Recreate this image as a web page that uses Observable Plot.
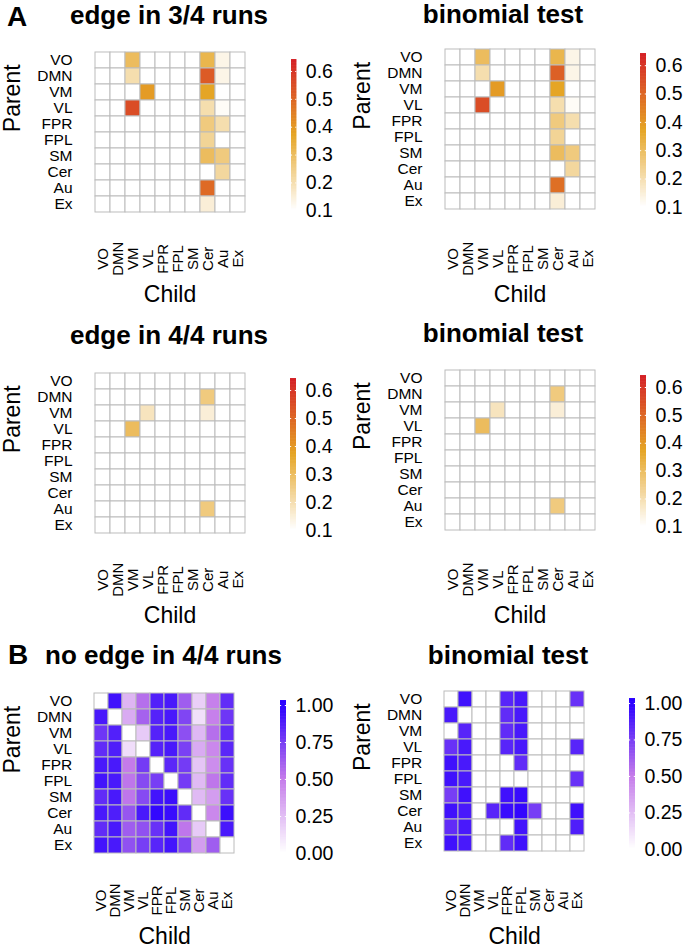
<!DOCTYPE html>
<html><head><meta charset="utf-8">
<script src="https://cdn.jsdelivr.net/npm/d3@7"></script>
<script src="https://cdn.jsdelivr.net/npm/@observablehq/plot@0.6"></script>
<style>
body{margin:0;background:#fff;font-family:"Liberation Sans",Arial,Helvetica,sans-serif;}
#fig{position:relative;width:686px;height:949px;overflow:hidden;background:#fff;}
#fig svg{position:absolute;}
.title{position:absolute;font-weight:bold;font-size:26px;white-space:nowrap;line-height:1.2;transform:translateX(-50%);color:#000;}
.tag{position:absolute;font-weight:bold;font-size:28px;line-height:1.2;color:#000;}
</style></head><body><div id="fig"></div>
<script>
// ---------- data ----------
const regions = ["VO","DMN","VM","VL","FPR","FPL","SM","Cer","Au","Ex"];
const ticksA = [0.1,0.2,0.3,0.4,0.5,0.6];
const ticksB = [0,0.25,0.5,0.75,1];
const panelTitles = ["edge in 3/4 runs","binomial test","edge in 4/4 runs","binomial test","no edge in 4/4 runs","binomial test"];
const panelTags = ["A","B"];

// rows = Parent, columns = Child (order of regions); 0 = no edge
const edge3of4 = [
  [0,0,0.30,0,0,0,0,0.32,0.13,0],
  [0,0,0.20,0,0,0,0,0.52,0.13,0],
  [0,0,0,0.39,0,0,0,0.37,0,0],
  [0,0,0.55,0,0,0,0,0.20,0.11,0],
  [0,0,0,0,0,0,0,0.26,0.20,0],
  [0,0,0,0,0,0,0,0.23,0,0],
  [0,0,0,0,0,0,0,0.30,0.26,0],
  [0,0,0,0,0,0,0,0,0.22,0],
  [0,0,0,0,0,0,0,0.49,0,0],
  [0,0,0,0,0,0,0,0.15,0,0]
];
const binom3of4 = [
  [0,0,0.30,0,0,0,0,0.32,0.13,0],
  [0,0,0.20,0,0,0,0,0.51,0.13,0],
  [0,0,0,0.39,0,0,0,0.37,0,0],
  [0,0,0.55,0,0,0,0,0.20,0.11,0],
  [0,0,0,0,0,0,0,0.26,0.20,0],
  [0,0,0,0,0,0,0,0.23,0,0],
  [0,0,0,0,0,0,0,0.30,0.26,0],
  [0,0,0,0,0,0,0,0,0.22,0],
  [0,0,0,0,0,0,0,0.48,0,0],
  [0,0,0,0,0,0,0,0.15,0,0]
];
const edge4of4 = [
  [0,0,0,0,0,0,0,0,0,0],
  [0,0,0,0,0,0,0,0.26,0,0],
  [0,0,0,0.18,0,0,0,0.15,0,0],
  [0,0,0.30,0,0,0,0,0,0,0],
  [0,0,0,0,0,0,0,0,0,0],
  [0,0,0,0,0,0,0,0,0,0],
  [0,0,0,0,0,0,0,0,0,0],
  [0,0,0,0,0,0,0,0,0,0],
  [0,0,0,0,0,0,0,0.26,0,0],
  [0,0,0,0,0,0,0,0,0,0]
];
const binom4of4 = [
  [0,0,0,0,0,0,0,0,0,0],
  [0,0,0,0,0,0,0,0.26,0,0],
  [0,0,0,0.18,0,0,0,0.15,0,0],
  [0,0,0.30,0,0,0,0,0,0,0],
  [0,0,0,0,0,0,0,0,0,0],
  [0,0,0,0,0,0,0,0,0,0],
  [0,0,0,0,0,0,0,0,0,0],
  [0,0,0,0,0,0,0,0,0,0],
  [0,0,0,0,0,0,0,0.26,0,0],
  [0,0,0,0,0,0,0,0,0,0]
];
const noEdge4of4 = [
  [0,0.93,0.28,0.55,0.87,0.90,0.62,0.18,0.48,0.82],
  [0.90,0,0.32,0.60,0.86,0.90,0.72,0.12,0.48,0.78],
  [0.78,0.87,0,0.20,0.86,0.90,0.68,0.27,0.55,0.82],
  [0.82,0.88,0.13,0,0.86,0.90,0.74,0.32,0.45,0.84],
  [0.90,0.90,0.50,0.76,0,0.84,0.76,0.22,0.43,0.80],
  [0.92,0.90,0.52,0.70,0.75,0,0.76,0.26,0.52,0.82],
  [0.82,0.90,0.52,0.70,0.92,0.94,0,0.26,0.37,0.80],
  [0.90,0.88,0.65,0.90,0.97,0.95,0.82,0,0.45,0.94],
  [0.82,0.90,0.62,0.67,0.80,0.92,0.52,0.20,0,0.90],
  [0.92,0.90,0.67,0.75,0.85,0.92,0.72,0.37,0.62,0]
];
const binomNoEdge = [
  [0,0.93,0,0,0.85,0.90,0,0,0,0.80],
  [0.90,0,0,0,0.82,0.90,0,0,0,0],
  [0,0.85,0,0,0.82,0.90,0,0,0,0],
  [0.80,0.90,0,0,0.85,0.90,0,0,0,0.85],
  [0.93,0.90,0,0,0,0.82,0,0,0,0],
  [0.93,0.90,0,0,0,0,0,0,0,0.80],
  [0.75,0.93,0,0,0.93,0.95,0,0,0,0],
  [0.93,0.90,0,0.85,0.95,0.97,0.75,0,0,0.93],
  [0.82,0.90,0,0,0,0.92,0,0,0,0.88],
  [0.93,0.90,0,0,0.82,0.93,0,0,0,0]
];

// ---------- scales ----------
const colorA = {type:"linear", domain:[0.1,0.37,0.643], range:["#ffffff","#E5A525","#D41F26"], interpolate:"rgb", clamp:true};
const colorB = {type:"linear", domain:[0,0.5,1], range:["#ffffff","#C47BEA","#2A00FF"], interpolate:"rgb", clamp:true};

const FONT = "Liberation Sans, Arial, Helvetica, sans-serif";
const fig = document.getElementById("fig");

function place(node, left, top){
  node.style.left = left + "px";
  node.style.top = top + "px";
  fig.appendChild(node);
}

function heatmap({L, W, gl, gt, gw, gh, values, color}){
  const T = gt - 10;
  const H = 10 + gh + 92;
  const cells = [];
  values.forEach((row,i) => row.forEach((v,j) => cells.push({parent: regions[i], child: regions[j], value: v})));
  const svg = Plot.plot({
    width: W, height: H,
    marginLeft: gl - L, marginTop: gt - T,
    marginRight: W - (gl - L) - gw, marginBottom: H - (gt - T) - gh,
    style: {background:"none", fontFamily: FONT, fontSize:"15px", color:"#000", overflow:"visible"},
    x: {type:"band", domain: regions, padding:0, axis:null},
    y: {type:"band", domain: regions, padding:0, axis:null},
    color,
    marks: [
      Plot.cell(cells, {x:"child", y:"parent", fill:"value", stroke:"#bcbcbc", strokeWidth:1}),
      Plot.text(regions, {y: d => d, frameAnchor:"left", dx:-21, textAnchor:"end", fontSize:15.5, fill:"#000"}),
      Plot.text(regions, {x: d => d, frameAnchor:"bottom", dy:46, rotate:-90, fontSize:15, textAnchor:"middle", lineAnchor:"middle", fill:"#000"}),
      Plot.text(["Child"], {frameAnchor:"bottom", dy:82, fontSize:23, lineAnchor:"middle", fill:"#000"}),
      Plot.text(["Parent"], {frameAnchor:"left", dx:-81, rotate:-90, fontSize:23, lineAnchor:"middle", fill:"#000"})
    ]
  });
  place(svg, L, T);
}

function colorbar({barL, barR, v0, p0, v1, p1, domain, ticks, format, color}){
  const k = (p1 - p0) / (v1 - v0);
  const yOf = v => p0 + (v - v0) * k;
  const top = yOf(domain[1]), bottom = yOf(domain[0]);
  const L = barL - 4, T = top - 20, W = 70, H = bottom - T + 20;
  const step = (domain[1] - domain[0]) / 200;
  const stripes = d3.range(domain[0], domain[1], step);
  const svg = Plot.plot({
    width: W, height: H,
    marginLeft: barL - L, marginRight: W - (barR - L), marginTop: 20, marginBottom: 20,
    style: {background:"none", fontFamily: FONT, fontSize:"19px", color:"#000", overflow:"visible"},
    x: {domain:[0,1], axis:null},
    y: {domain, range:[bottom - T, top - T], axis:null},
    color,
    marks: [
      Plot.rect(stripes, {x1:0, x2:1, y1: d => d, y2: d => Math.min(d + step*1.8, domain[1]), fill: d => d}),
      Plot.ruleY(ticks, {x1:0, x2:0.2, stroke:"#ffffff", strokeWidth:1}),
      Plot.ruleY(ticks, {x1:0.8, x2:1, stroke:"#ffffff", strokeWidth:1}),
      Plot.text(ticks, {y: d => d, x: 1, dx:9, textAnchor:"start", text: d => format(d), fontSize:19.5, fill:"#000"})
    ]
  });
  place(svg, L, T);
}

function title(text, cx, baseline){
  const d = document.createElement("div");
  d.className = "title"; d.textContent = text;
  d.style.left = cx + "px"; d.style.top = (baseline - 0.947*26) + "px";
  fig.appendChild(d);
}
function tag(text, x, baseline){
  const d = document.createElement("div");
  d.className = "tag"; d.textContent = text;
  d.style.left = x + "px"; d.style.top = Math.max(0, baseline - 0.947*28) + "px";
  fig.appendChild(d);
}

// ---------- layout ----------
heatmap({L:0,   W:340, gl:93,    gt:50.7,  gw:153, gh:161.3, values:edge3of4,   color:colorA});
heatmap({L:340, W:346, gl:443,   gt:45.7,  gw:153, gh:166.3, values:binom3of4,  color:colorA});
heatmap({L:0,   W:340, gl:93,    gt:371.7, gw:153, gh:161.3, values:edge4of4,   color:colorA});
heatmap({L:340, W:346, gl:443,   gt:366,   gw:153, gh:167,   values:binom4of4,  color:colorA});
heatmap({L:0,   W:340, gl:92.7,  gt:692,   gw:143, gh:162,   values:noEdge4of4, color:colorB});
heatmap({L:340, W:346, gl:442.7, gt:687,   gw:143, gh:167,   values:binomNoEdge,color:colorB});

const fmtA = d3.format(".1f"), fmtB = d3.format(".2f");
colorbar({barL:290.7, barR:296,   v0:0.1, p0:210,   v1:0.6, p1:70.7,  domain:[0.1,0.643], ticks:ticksA, format:fmtA, color:colorA});
colorbar({barL:640,   barR:646,   v0:0.1, p0:206.7, v1:0.6, p1:65,    domain:[0.1,0.643], ticks:ticksA, format:fmtA, color:colorA});
colorbar({barL:290,   barR:296,   v0:0.1, p0:530,   v1:0.6, p1:390,   domain:[0.1,0.643], ticks:ticksA, format:fmtA, color:colorA});
colorbar({barL:640,   barR:646,   v0:0.1, p0:526.7, v1:0.6, p1:387.3, domain:[0.1,0.643], ticks:ticksA, format:fmtA, color:colorA});
colorbar({barL:280,   barR:286,   v0:0,   p0:853,   v1:1,   p1:705,   domain:[0,1.034],   ticks:ticksB, format:fmtB, color:colorB});
colorbar({barL:629.3, barR:635.3, v0:0,   p0:849.3, v1:1,   p1:703.3, domain:[0,1.034],   ticks:ticksB, format:fmtB, color:colorB});

title(panelTitles[0], 169, 25);
title(panelTitles[1], 503, 24);
title(panelTitles[2], 169, 345);
title(panelTitles[3], 503, 343);
title(panelTitles[4], 163.5, 665);
title(panelTitles[5], 508, 665);
tag(panelTags[0], 7, 26);
tag(panelTags[1], 8, 665);
</script></body></html>
